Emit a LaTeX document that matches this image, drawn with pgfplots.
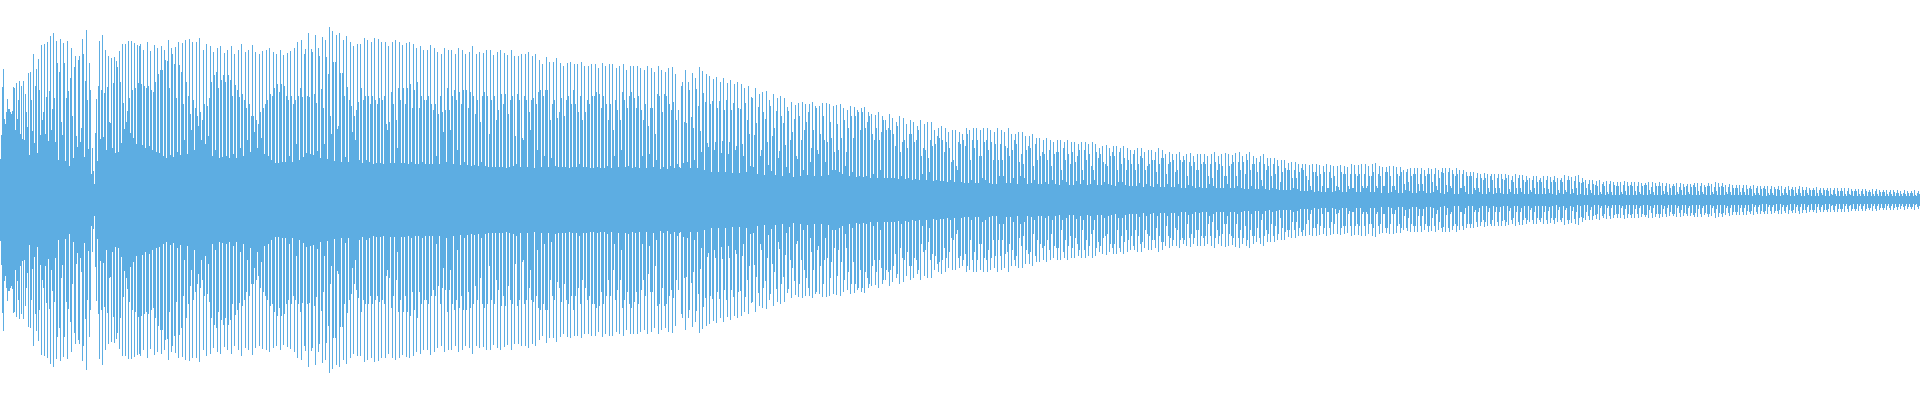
\documentclass[border=0pt]{standalone}
\usepackage{pgfplots}
\usepackage{pgfplotstable}
\pgfplotsset{compat=1.18}
\definecolor{wave}{HTML}{5DADE2}
\pgfplotstableread{
x a b c d e f g
0 41 65 113 131 81 76 88
7 101 91 91 88 86 89 113
14 112 70 117 81 100 119 66
21 114 61 119 60 106 88 73
28 127 45 128 100 69 146 57
35 114 131 47 141 110 65 155
42 80 88 156 66 103 158 59
49 109 164 70 91 167 102 58
56 159 137 40 128 161 78 65
63 157 137 39 102 159 109 34
70 122 152 84 42 133 144 64
77 53 140 144 58 72 161 146
84 43 119 170 100 51 137 110
91 26 52 29 16 67 101 39
98 114 159 61 110 165 63 107
105 150 50 113 144 78 77 142
112 52 117 143 47 139 133 48
119 149 118 57 156 97 71 156
126 78 89 159 102 67 159 110
133 62 157 112 56 155 117 154
140 156 116 55 150 114 52 112
147 158 114 54 149 110 50 108
154 155 118 48 152 126 47 130
161 154 130 44 150 140 42 139
168 160 112 45 152 146 43 136
175 153 102 48 158 135 45 128
182 157 96 60 160 118 46 104
189 161 86 70 158 100 50 92
196 158 84 74 162 88 60 80
203 150 96 56 156 94 64 102
210 154 118 44 148 125 50 128
217 152 112 42 154 120 43 125
224 147 118 44 150 125 42 120
231 154 104 46 146 115 42 110
238 150 103 52 156 106 44 100
245 148 92 60 150 96 48 84
252 155 84 68 148 80 52 76
259 146 88 62 149 92 46 96
266 150 100 44 152 106 40 104
273 148 112 37 146 116 37 108
280 150 116 38 145 114 38 104
287 147 100 44 149 104 38 96
294 152 100 56 158 104 40 112
301 160 103 43 146 151 47 104
308 167 103 46 151 148 45 106
315 165 97 49 152 144 42 111
322 163 92 56 160 143 41 126
329 173 84 66 169 138 39 138
336 165 71 74 167 127 38 127
343 160 104 43 164 113 38 100
350 158 94 68 154 84 60 90
357 156 98 40 156 112 37 100
364 162 104 40 160 104 38 96
371 158 104 36 162 100 37 96
378 161 102 37 158 100 36 104
385 158 76 70 154 78 37 108
392 158 96 37 160 80 52 112
399 158 100 37 155 112 37 96
406 157 112 36 158 116 38 92
413 156 110 36 152 118 36 92
420 154 104 38 150 100 36 100
427 150 104 36 155 96 36 90
434 152 96 44 148 86 36 104
441 146 88 68 152 90 38 112
448 150 90 70 150 104 36 110
455 146 100 50 152 108 35 96
462 150 110 38 146 110 35 92
469 148 108 34 154 104 35 86
476 146 100 34 148 78 38 104
483 147 108 34 150 104 33 66
490 150 100 33 145 104 33 80
497 148 90 33 150 106 33 96
504 147 106 32 145 86 33 100
511 150 104 34 144 64 36 106
518 144 100 33 146 62 60 104
525 146 100 33 148 88 70 100
532 144 102 32 146 96 50 108
539 140 110 33 136 104 44 110
546 143 110 33 138 80 42 96
553 138 100 34 142 82 33 88
560 137 102 33 134 84 33 100
567 137 104 32 138 96 33 110
574 136 96 33 136 88 36 104
581 138 80 33 134 88 33 100
588 134 96 32 136 104 32 104
595 136 108 33 132 106 32 92
602 137 104 32 134 96 34 80
609 136 96 32 136 70 44 100
616 132 90 33 134 80 50 108
623 136 100 33 130 92 34 104
630 134 108 32 134 102 33 92
637 134 104 32 132 90 44 80
644 130 96 32 134 74 46 92
651 132 92 33 128 66 40 106
658 134 104 31 130 88 33 106
665 128 104 31 132 96 34 90
672 133 98 32 126 80 36 90
679 33 32 114 118 37 78 130
686 77 38 118 110 32 83 127
693 72 40 122 111 32 94 133
700 69 48 129 107 30 98 126
707 57 53 124 96 28 99 121
714 50 58 123 92 28 99 118
721 47 59 122 90 28 100 117
728 46 58 120 90 27 97 116
735 50 54 118 92 27 91 116
742 56 44 112 97 28 80 114
749 66 34 103 102 33 65 112
756 77 26 93 106 44 50 108
763 88 25 81 109 58 35 100
770 94 29 64 106 72 25 89
777 102 42 49 104 84 24 77
784 102 55 33 93 89 27 60
791 98 68 23 81 95 44 41
798 97 84 24 60 98 30 70
805 96 78 25 88 96 38 52
812 98 70 24 94 92 50 46
819 94 66 24 97 84 60 38
826 97 58 25 96 78 62 30
833 94 48 30 95 76 50 28
840 96 62 26 92 80 34 48
847 90 72 24 94 84 28 62
854 93 84 23 90 88 24 70
861 92 88 23 93 72 24 78
868 88 84 22 86 66 26 60
875 85 72 22 88 60 30 68
882 84 80 22 80 70 22 72
889 86 70 22 82 66 22 54
896 78 74 21 84 48 24 58
903 82 60 21 76 52 22 66
910 80 66 20 78 58 21 60
917 74 70 20 80 44 26 52
924 76 50 20 78 42 28 60
931 78 54 19 70 56 20 64
938 72 62 19 74 60 19 48
945 72 58 18 68 52 20 38
952 70 40 18 70 34 30 58
959 68 56 18 66 60 17 54
966 72 66 17 70 40 20 60
973 72 52 17 72 60 17 44
980 70 44 22 72 58 20 60
987 72 50 17 70 58 16 40
994 68 56 16 72 40 24 56
1001 70 40 24 68 54 17 52
1008 72 44 17 66 50 22 60
1015 66 56 16 68 38 24 46
1022 68 36 22 64 50 16 54
1029 64 52 17 66 34 20 56
1036 62 40 16 62 44 16 48
1043 60 46 18 62 40 16 50
1050 60 34 20 58 46 16 48
1057 60 48 15 60 30 20 52
1064 58 40 18 60 46 15 36
1071 58 48 15 58 38 19 44
1078 56 50 16 58 30 20 50
1085 58 40 15 56 46 16 34
1092 58 30 20 56 48 15 42
1099 52 46 15 54 38 18 36
1106 55 34 16 52 44 15 48
1113 54 44 14 54 30 18 48
1120 52 36 18 54 42 15 30
1127 52 40 14 50 36 14 46
1134 50 30 14 52 36 17 44
1141 52 42 13 48 30 16 34
1148 50 36 14 50 40 13 40
1155 48 28 16 52 36 13 42
1162 50 42 13 46 26 16 36
1169 48 38 13 46 40 13 28
1176 46 30 16 48 40 12 38
1183 44 40 12 46 24 15 38
1190 47 34 14 44 38 12 30
1197 46 30 13 46 36 12 38
1204 46 36 12 44 24 16 36
1211 46 22 14 48 38 12 30
1218 44 36 12 46 34 12 24
1225 47 24 16 46 34 12 36
1232 45 38 12 47 24 14 38
1239 48 30 12 44 38 11 26
1246 46 40 11 48 30 14 36
1253 44 36 11 42 28 11 38
1260 44 20 14 46 36 11 30
1267 42 34 10 42 24 12 36
1274 42 26 11 40 34 10 18
1281 40 28 10 40 32 10 30
1288 37 30 10 38 22 12 30
1295 38 22 11 36 28 9 32
1302 36 30 9 36 24 9 20
1309 35 14 10 36 28 8 28
1316 36 24 9 35 26 8 14
1323 34 28 8 36 12 12 28
1330 35 22 8 34 24 9 14
1337 34 13 10 35 28 8 26
1344 34 26 8 33 14 11 26
1351 36 12 12 35 26 8 24
1358 35 26 8 36 14 12 26
1365 36 12 14 34 24 8 24
1372 36 28 8 37 14 12 26
1379 34 24 7 33 14 14 28
1386 33 28 7 34 24 8 14
1393 34 14 10 33 26 7 24
1400 33 28 7 30 16 10 28
1407 31 18 9 32 24 7 26
1414 32 26 7 32 16 9 26
1421 32 16 9 30 24 7 26
1428 32 26 7 31 18 8 26
1435 32 14 10 30 22 7 28
1442 32 27 6 32 15 8 28
1449 32 14 12 30 26 6 24
1456 32 26 6 30 12 12 26
1463 30 14 8 28 24 6 24
1470 28 24 6 28 12 10 22
1477 27 12 8 26 22 6 20
1484 27 22 6 26 12 8 24
1491 26 20 6 26 12 7 22
1498 26 12 7 26 21 6 20
1505 26 22 6 25 11 8 20
1512 24 18 6 26 12 6 22
1519 25 12 8 25 20 6 18
1526 24 20 6 22 10 8 20
1533 24 12 6 24 18 6 20
1540 22 18 6 24 12 6 20
1547 24 11 7 23 18 6 20
1554 24 18 5 22 10 7 20
1561 22 18 6 25 10 8 20
1568 24 20 6 23 11 7 19
1575 24 12 5 25 18 6 17
1582 22 18 5 20 12 5 16
1589 20 10 7 20 16 5 15
1596 19 14 5 20 8 6 16
1603 18 14 5 19 8 6 16
1610 19 8 5 18 15 5 14
1617 18 14 5 18 8 6 15
1624 19 9 5 18 14 5 15
1631 18 14 5 18 9 5 14
1638 18 8 6 17 14 5 15
1645 17 15 5 18 10 6 13
1652 18 8 5 17 14 5 14
1659 18 14 5 17 9 6 14
1666 17 8 5 16 12 5 14
1673 16 14 5 17 8 6 13
1680 17 10 5 16 13 5 14
1687 16 8 6 16 13 5 15
1694 17 13 5 17 9 5 14
1701 17 8 6 15 13 5 14
1708 17 14 5 16 8 6 13
1715 18 9 5 17 13 5 14
1722 17 13 5 15 8 6 13
1729 16 8 5 15 12 5 12
1736 15 12 5 15 8 5 12
1743 15 8 5 15 11 5 12
1750 14 11 4 15 7 5 12
1757 14 7 5 14 11 4 12
1764 14 11 4 14 7 5 11
1771 14 7 5 13 11 4 11
1778 14 10 4 14 7 5 11
1785 13 7 5 14 10 4 11
1792 13 10 4 13 7 5 11
1799 14 7 4 13 10 4 10
1806 13 7 5 12 10 4 10
1813 12 10 4 13 7 4 10
1820 12 7 5 12 10 4 10
1827 12 9 4 12 6 5 10
1834 12 6 4 12 9 4 9
1841 12 9 4 12 6 4 9
1848 12 6 5 11 9 4 9
1855 11 9 4 11 6 4 9
1862 11 6 4 11 9 4 8
1869 10 8 4 11 6 4 9
1876 11 6 4 10 8 4 8
1883 10 8 4 10 6 4 8
1890 10 6 4 10 8 4 7
1897 10 7 4 9 6 4 7
1904 10 6 4 9 7 4 7
1911 9 7 4 10 5 4 7
1918 9 6 4 9 6 4 7
}\wavetable
\newcommand{\col}[2]{%
  \addplot[ycomb,no markers,wave,line width=1bp] table[x expr=\thisrow{x}+#2,y=#1]{\wavetable};
  \addplot[ycomb,no markers,wave,line width=1bp] table[x expr=\thisrow{x}+#2,y expr=-\thisrow{#1}]{\wavetable};
}
\begin{document}
\begin{tikzpicture}
\path[use as bounding box] (0,0) rectangle (1920bp,400.4bp);
\begin{axis}[
  scale only axis,width=1920bp,height=400bp,
  xmin=0,xmax=1920,ymin=-200,ymax=200,
  hide axis,
  at={(0,0.2bp)},anchor=south west,
]
\col{a}{0.25}
\col{b}{1.25}
\col{c}{2.25}
\col{d}{3.25}
\col{e}{4.25}
\col{f}{5.25}
\col{g}{6.25}
\end{axis}
\end{tikzpicture}
\end{document}
